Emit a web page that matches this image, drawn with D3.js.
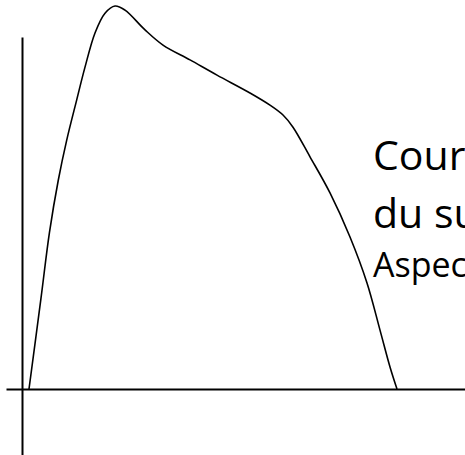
<!DOCTYPE html>
<html>
<head>
<meta charset="utf-8">
<script src="https://cdn.jsdelivr.net/npm/d3@7"></script>
<style>
  html, body { margin: 0; padding: 0; background: #fff; overflow: hidden; }
  text { font-family: "Open Sans", "Noto Sans", sans-serif; fill: #000; }
</style>
</head>
<body>
<div id="container"></div>
<script>
/* CONSTANTS AND GLOBALS */
const width = 465,
  height = 455;

/* DATA (hand-drawn curve) */
const curveX = [1.75, 4.75, 6.85, 9.08, 11.18, 13.68, 15.75, 18.25, 20.75, 23.25, 25.75, 30.75,
  35.25, 42, 48.75, 57, 62, 65.25, 67.75, 72, 77, 82, 86.25, 89.5, 92, 93.75];
const curveY = [0, 23.9, 41.1, 55.0, 65.5, 76.1, 84.7, 93.7, 98.9, 100.8, 99.7, 94.5,
  90.5, 86.6, 82.6, 77.9, 74.7, 72.1, 68.9, 61.1, 51.6, 40, 27.9, 15.5, 5.8, 0];
const labelLines = ["Cour", "du su", "Aspec"];

const data = curveX.map((x, i) => ({ x: x, y: curveY[i] }));

/* SCALES */
const xScale = d3.scaleLinear().domain([0, 100]).range([22, 422]);
const yScale = d3.scaleLinear().domain([0, 100]).range([389, 9]);

const svg = d3.select("#container").append("svg")
  .attr("width", width)
  .attr("height", height);

/* AXES: plain lines, no ticks */
const xAxisScale = d3.scaleLinear().domain([-4, 110.75]).range([xScale(-4), xScale(110.75)]);
const yAxisScale = d3.scaleLinear().domain([-18, 92.6]).range([yScale(-18), yScale(92.6)]);

svg.append("g")
  .attr("class", "x-axis")
  .attr("transform", `translate(0,${yScale(0)})`)
  .call(d3.axisBottom(xAxisScale).ticks(0).tickSizeOuter(0))
  .call(g => g.select(".domain").attr("stroke", "#000").attr("stroke-width", 2));

svg.append("g")
  .attr("class", "y-axis")
  .attr("transform", `translate(${xScale(0)},0)`)
  .call(d3.axisLeft(yAxisScale).ticks(0).tickSizeOuter(0))
  .call(g => g.select(".domain").attr("stroke", "#000").attr("stroke-width", 2));

/* CURVE */
const line = d3.line()
  .x(d => xScale(d.x))
  .y(d => yScale(d.y))
  .curve(d3.curveCatmullRom.alpha(0.5));

svg.append("path")
  .datum(data)
  .attr("fill", "none")
  .attr("stroke", "#000")
  .attr("stroke-width", 1.6)
  .attr("d", line);

/* LABEL (runs off the right edge, as in the original) */
const label = svg.append("g").attr("transform", "translate(373,0)");
label.append("text").attr("y", 170).attr("font-size", 41).text(labelLines[0]);
label.append("text").attr("y", 228).attr("font-size", 41).text(labelLines[1]);
label.append("text").attr("y", 277).attr("font-size", 34).text(labelLines[2]);
</script>
</body>
</html>
